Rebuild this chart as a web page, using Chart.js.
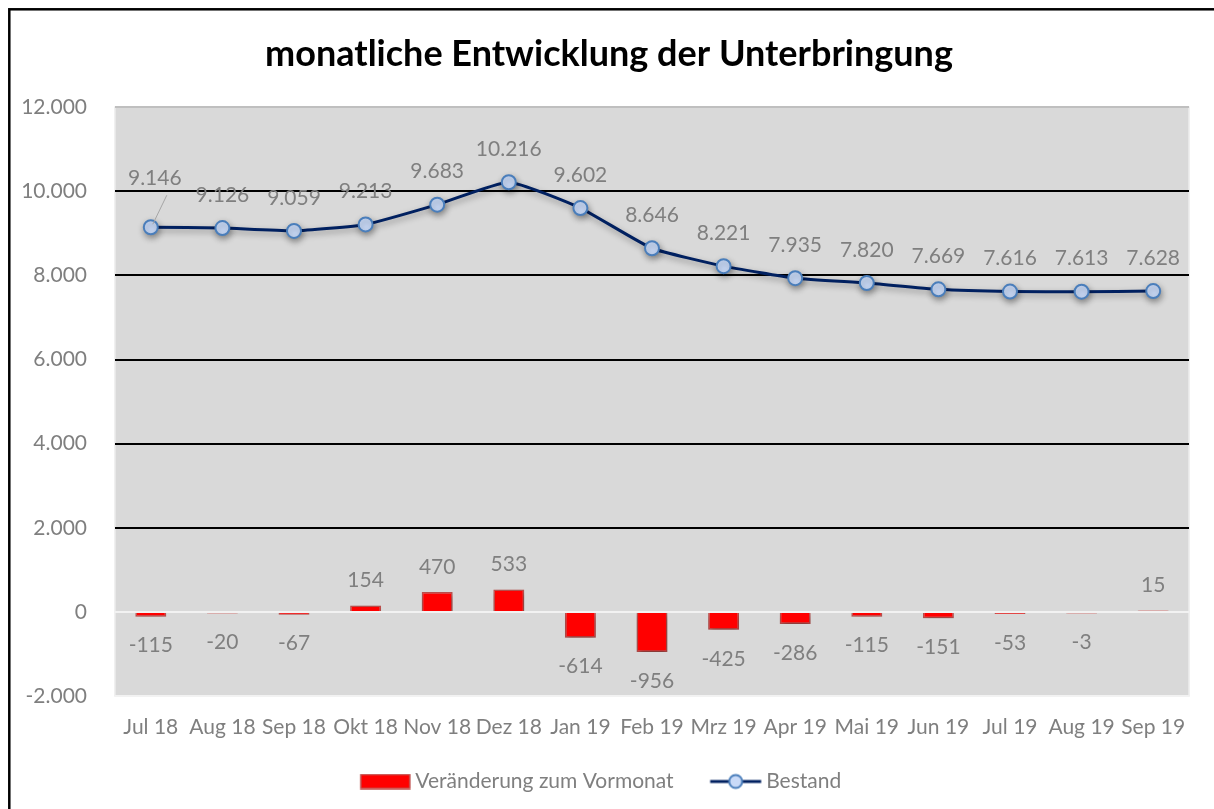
<!DOCTYPE html>
<html>
<head>
<meta charset="utf-8">
<script src="https://cdn.jsdelivr.net/npm/chart.js@4/dist/chart.umd.min.js"></script>
<style>
  html, body { margin: 0; padding: 0; background: #fff; overflow: hidden; }
  canvas { display: block; }
</style>
</head>
<body>
<canvas id="unterbringung" width="1214" height="809"></canvas>
<script>
var months = ['Jul 18', 'Aug 18', 'Sep 18', 'Okt 18', 'Nov 18', 'Dez 18', 'Jan 19', 'Feb 19', 'Mrz 19', 'Apr 19', 'Mai 19', 'Jun 19', 'Jul 19', 'Aug 19', 'Sep 19'];
var bestand = [9146, 9126, 9059, 9213, 9683, 10216, 9602, 8646, 8221, 7935, 7820, 7669, 7616, 7613, 7628];
var veraenderung = [-115, -20, -67, 154, 470, 533, -614, -956, -425, -286, -115, -151, -53, -3, 15];

var grey = '#7f7f7f';
var fontName = 'Lato, "Open Sans", sans-serif';

// german number format, dot as thousands separator
function fmt(v) {
    var s = Math.abs(Math.round(v)).toString().replace(/\B(?=(\d{3})+(?!\d))/g, '.');
    return (v < 0 ? '-' : '') + s;
}

// legend symbols: 72px reserved, image 88 wide so the symbol can sit right next to the text
var symW = 72, imgW = 88;
function makeBox() {
    var c = document.createElement('canvas');
    c.width = imgW; c.height = 16;
    var x = c.getContext('2d');
    x.fillStyle = '#ff0000';
    x.fillRect(36, 1, 49, 14);
    x.strokeStyle = '#c0504d';
    x.lineWidth = 1.5;
    x.strokeRect(36, 1, 49, 14);
    return c;
}
function makeLineMark() {
    var c = document.createElement('canvas');
    c.width = imgW; c.height = 18;
    var x = c.getContext('2d');
    x.strokeStyle = '#002060';
    x.lineWidth = 3;
    x.beginPath(); x.moveTo(34.5, 9); x.lineTo(85.5, 9); x.stroke();
    x.beginPath(); x.arc(60, 9, 6.5, 0, Math.PI * 2);
    x.fillStyle = '#c9daf8'; x.fill();
    x.strokeStyle = '#4a7ebb'; x.lineWidth = 2; x.stroke();
    return c;
}
var legendBox = makeBox();
var legendLine = makeLineMark();

var plotBg = {
    id: 'plotBg',
    afterLayout: function(chart) {
        // legend sits a bit left of the centre in the original
        chart.legend.left -= 22;
        chart.legend.right -= 22;
    },
    beforeDraw: function(chart) {
        var a = chart.chartArea, ctx = chart.ctx;
        ctx.save();
        ctx.fillStyle = '#fff';
        ctx.fillRect(0, 0, chart.width, chart.height);
        ctx.fillStyle = '#d9d9d9';
        ctx.fillRect(a.left, a.top, a.right - a.left, a.bottom - a.top);
        ctx.strokeStyle = '#ececec';
        ctx.lineWidth = 1.5;
        ctx.strokeRect(a.left, a.top, a.right - a.left, a.bottom - a.top);
        ctx.restore();
    },
    afterDraw: function(chart) {
        // outer chart frame, right and bottom edges fall outside the picture
        var ctx = chart.ctx;
        ctx.save();
        ctx.strokeStyle = '#000';
        ctx.lineWidth = 2.5;
        ctx.strokeRect(9.3, 9.3, 1400, 1000);
        ctx.restore();
    }
};

var shadow = {
    id: 'shadow',
    beforeDatasetDraw: function(chart) {
        var ctx = chart.ctx;
        ctx.save();
        ctx.shadowColor = 'rgba(0,0,0,0.35)';
        ctx.shadowBlur = 6;
        ctx.shadowOffsetX = 1;
        ctx.shadowOffsetY = 3;
    },
    afterDatasetDraw: function(chart) {
        chart.ctx.restore();
    }
};

var valueLabels = {
    id: 'valueLabels',
    afterDatasetsDraw: function(chart) {
        var ctx = chart.ctx;
        ctx.save();
        ctx.font = '21px ' + fontName;
        ctx.fillStyle = grey;
        ctx.textAlign = 'center';
        ctx.textBaseline = 'middle';
        chart.data.datasets.forEach(function(ds, di) {
            var meta = chart.getDatasetMeta(di);
            meta.data.forEach(function(el, i) {
                var v = ds.data[i];
                var y;
                if (ds.type === 'line') {
                    if (i === 0) {
                        // label pushed up with a leader line
                        y = el.y - 49;
                        ctx.strokeStyle = '#a6a6a6';
                        ctx.lineWidth = 1;
                        ctx.beginPath();
                        ctx.moveTo(el.x + 2, el.y - 3);
                        ctx.lineTo(el.x + 16, el.y - 32);
                        ctx.stroke();
                        ctx.fillText(fmt(v), el.x + 4, y);
                        return;
                    }
                    y = el.y - 33;
                } else {
                    y = v >= 0 ? Math.min(el.y, el.base) - 25 : Math.max(el.y, el.base) + 29;
                }
                ctx.fillText(fmt(v), el.x, y);
            });
        });
        ctx.restore();
    }
};

var ctx = document.getElementById('unterbringung');
var chart = new Chart(ctx, {
    data: {
        labels: months,
        datasets: [{
            type: 'bar',
            label: 'Veränderung zum Vormonat',
            data: veraenderung,
            backgroundColor: '#ff0000',
            borderColor: '#c0504d',
            borderWidth: 1.5,
            minBarLength: 1.5,
            barPercentage: 0.6,
            categoryPercentage: 0.72,
            order: 2
        }, {
            type: 'line',
            label: 'Bestand',
            data: bestand,
            borderColor: '#002060',
            borderWidth: 3,
            tension: 0.15,
            pointRadius: 7,
            pointBackgroundColor: '#c9daf8',
            pointBorderColor: '#4a7ebb',
            pointBorderWidth: 2,
            order: 1
        }]
    },
    options: {
        responsive: false,
        devicePixelRatio: 1,
        animation: false,
        layout: { padding: { left: 4, right: 0, top: 0, bottom: 7 } },
        scales: {
            x: {
                grid: { display: false, drawTicks: false },
                border: { display: false },
                ticks: {
                    color: grey,
                    font: { family: fontName, size: 21 },
                    padding: 19,
                    autoSkip: false,
                    maxRotation: 0
                },
                afterFit: function(s) { s.height = 65; }
            },
            y: {
                min: -2000,
                max: 12000,
                grid: {
                    drawTicks: false,
                    lineWidth: 2,
                    color: function(c) {
                        var v = c.tick.value;
                        if (v === 12000) return '#bfbfbf';
                        if (v === 0 || v === -2000) return '#f2f2f2';
                        return '#000000';
                    }
                },
                border: { display: false },
                ticks: {
                    stepSize: 2000,
                    color: grey,
                    font: { family: fontName, size: 21 },
                    padding: 28,
                    callback: function(v) { return fmt(v); }
                },
                afterFit: function(s) { s.width = 111; }
            },
            yr: {
                position: 'right',
                display: true,
                grid: { display: false, drawTicks: false },
                border: { display: false },
                ticks: { display: false },
                afterFit: function(s) { s.width = 25; }
            }
        },
        plugins: {
            title: {
                display: true,
                text: 'monatliche Entwicklung der Unterbringung',
                color: '#000',
                font: { family: fontName, size: 36, weight: 'bold' },
                padding: { top: 33, bottom: 31 }
            },
            legend: {
                position: 'bottom',
                labels: {
                    color: grey,
                    font: { family: fontName, size: 21 },
                    usePointStyle: true,
                    pointStyleWidth: symW,
                    padding: 10,
                    sort: function(a, b) { return a.datasetIndex - b.datasetIndex; },
                    generateLabels: function(chart) {
                        var items = Chart.defaults.plugins.legend.labels.generateLabels(chart);
                        items.forEach(function(it) {
                            it.pointStyle = it.datasetIndex === 0 ? legendBox : legendLine;
                        });
                        return items;
                    }
                }
            },
            tooltip: { enabled: false }
        }
    },
    plugins: [plotBg, shadow, valueLabels]
});
</script>
</body>
</html>
